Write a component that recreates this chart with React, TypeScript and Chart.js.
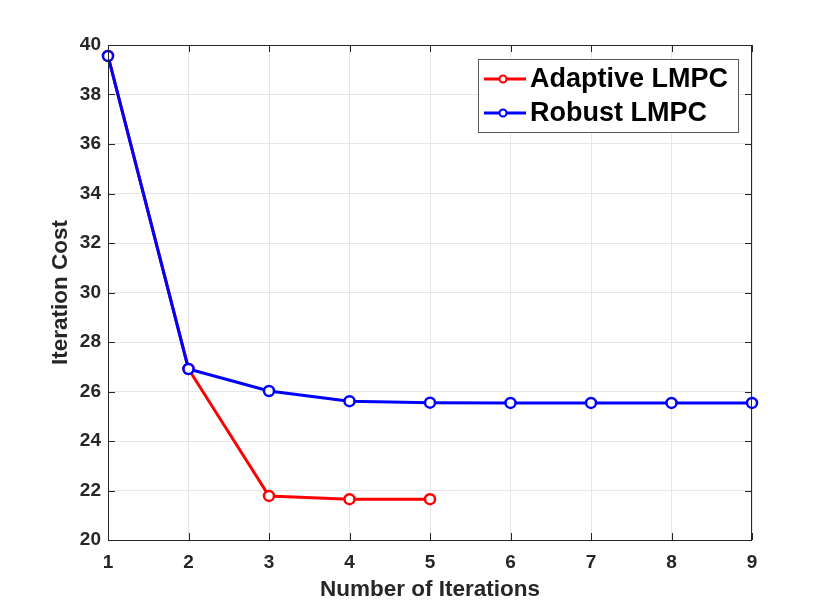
import { useEffect, useRef } from "react";
import { Chart, registerables, type Plugin } from "chart.js";

Chart.register(...registerables);

const iterations = ["1", "2", "3", "4", "5", "6", "7", "8", "9"];
const adaptiveCost = [39.56, 26.91, 21.78, 21.65, 21.65];
const robustCost = [39.56, 26.91, 26.02, 25.61, 25.55, 25.54, 25.54, 25.54, 25.54];
const seriesNames = ["Adaptive LMPC", "Robust LMPC"];
const seriesColors = ["#ff0000", "#0000ff"];

const FONT = "'Liberation Sans', Arial, Helvetica, sans-serif";
const AXIS = "#262626";

// box around the axes + MATLAB-style inward ticks
const boxPlugin: Plugin<"line"> = {
  id: "matlabBox",
  afterDraw(chart) {
    const { ctx, chartArea: a } = chart;
    const xs = chart.scales.x;
    const ys = chart.scales.y;
    ctx.save();
    ctx.strokeStyle = AXIS;
    ctx.lineWidth = 1;
    ctx.strokeRect(a.left + 0.5, a.top + 0.5, a.right - a.left - 1, a.bottom - a.top);
    const len = 7;
    ctx.beginPath();
    xs.ticks.forEach((_, i) => {
      const px = Math.round(xs.getPixelForTick(i)) + 0.5;
      ctx.moveTo(px, a.bottom);
      ctx.lineTo(px, a.bottom - len);
      ctx.moveTo(px, a.top);
      ctx.lineTo(px, a.top + len);
    });
    ys.ticks.forEach((t) => {
      const py = Math.round(ys.getPixelForValue(t.value)) + 0.5;
      ctx.moveTo(a.left, py);
      ctx.lineTo(a.left + len, py);
      ctx.moveTo(a.right, py);
      ctx.lineTo(a.right - len, py);
    });
    ctx.stroke();

    // legend
    const w = 260;
    const h = 73;
    const lx = a.right - 14 - w;
    const ly = a.top + 14;
    ctx.fillStyle = "#ffffff";
    ctx.fillRect(lx, ly, w, h);
    ctx.strokeStyle = "#5a5a5a";
    ctx.strokeRect(lx + 0.5, ly + 0.5, w, h);
    ctx.font = `bold 27px ${FONT}`;
    ctx.textBaseline = "middle";
    seriesNames.forEach((name, i) => {
      const cy = ly + 20 + i * 34;
      ctx.strokeStyle = seriesColors[i];
      ctx.lineWidth = 3;
      ctx.beginPath();
      ctx.moveTo(lx + 6, cy);
      ctx.lineTo(lx + 48, cy);
      ctx.stroke();
      ctx.beginPath();
      ctx.lineWidth = 2;
      ctx.fillStyle = "#ffffff";
      ctx.arc(lx + 25, cy, 3.5, 0, Math.PI * 2);
      ctx.fill();
      ctx.stroke();
      ctx.fillStyle = "#000000";
      ctx.fillText(name, lx + 52, cy + 1);
    });
    ctx.restore();
  },
};

export default function App() {
  const canvasRef = useRef<HTMLCanvasElement>(null);

  useEffect(() => {
    document.body.style.margin = "0";
    if (!canvasRef.current) return;

    const chart = new Chart(canvasRef.current, {
      type: "line",
      data: {
        labels: iterations,
        datasets: [
          {
            label: seriesNames[0],
            data: adaptiveCost,
            borderColor: seriesColors[0],
            borderWidth: 3,
            pointRadius: 5,
            pointBorderWidth: 2.5,
            pointBackgroundColor: "#ffffff",
            pointBorderColor: seriesColors[0],
            tension: 0,
            order: 1,
          },
          {
            label: seriesNames[1],
            data: robustCost,
            borderColor: seriesColors[1],
            borderWidth: 3,
            pointRadius: 5,
            pointBorderWidth: 2.5,
            pointBackgroundColor: "#ffffff",
            pointBorderColor: seriesColors[1],
            tension: 0,
            order: 0,
          },
        ],
      },
      options: {
        responsive: false,
        animation: false,
        layout: { padding: { top: 45, right: 78, left: 0, bottom: 0 } },
        plugins: {
          legend: { display: false },
          tooltip: { enabled: false },
        },
        scales: {
          x: {
            offset: false,
            afterFit: (s) => {
              s.height = 67;
            },
            grid: { color: "#e6e6e6", drawTicks: false },
            border: { display: false },
            ticks: {
              padding: 11,
              color: AXIS,
              font: { family: FONT, size: 19, weight: "bold" },
              maxRotation: 0,
            },
            title: {
              display: true,
              text: "Number of Iterations",
              color: AXIS,
              font: { family: FONT, size: 22.5, weight: "bold" },
              padding: { top: 0, bottom: 4 },
            },
          },
          y: {
            min: 20,
            max: 40,
            afterFit: (s) => {
              s.width = 108;
            },
            grid: { color: "#e6e6e6", drawTicks: false },
            border: { display: false },
            ticks: {
              stepSize: 2,
              padding: 7,
              color: AXIS,
              font: { family: FONT, size: 19, weight: "bold" },
            },
            title: {
              display: true,
              text: "Iteration Cost",
              color: AXIS,
              font: { family: FONT, size: 22.5, weight: "bold" },
              padding: { top: 47, bottom: 0 },
            },
          },
        },
      },
      plugins: [boxPlugin],
    });

    return () => chart.destroy();
  }, []);

  return (
    <div style={{ width: 830, height: 607, background: "#ffffff" }}>
      <canvas ref={canvasRef} width={830} height={607} />
    </div>
  );
}
